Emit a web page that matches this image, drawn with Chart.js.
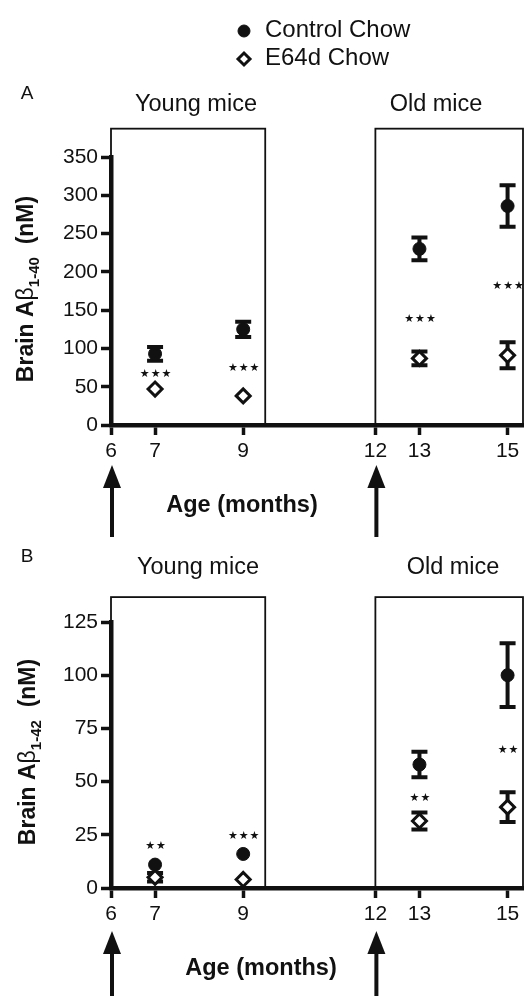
<!DOCTYPE html>
<html>
<head>
<meta charset="utf-8">
<script src="https://cdn.jsdelivr.net/npm/chart.js@4.4.1/dist/chart.umd.min.js"></script>
<style>
  html, body { margin: 0; padding: 0; background: #fff; }
  canvas { display: block; }
</style>
</head>
<body>
<canvas id="chartA" width="526" height="540"></canvas>
<canvas id="chartB" width="526" height="456"></canvas>
<script>
// ages (months) where mice were measured, and the labelled ticks
const months = [7, 9, 13, 15];
const xTicks = [6, 7, 9, 12, 13, 15];
const treatmentStarts = [6, 12];
const legendLabels = ['Control Chow', 'E64d Chow'];
const groupLabels = ['Young mice', 'Old mice'];

// panel A: Abeta 1-40
const controlA = [93, 125, 230, 286];
const controlErrA = [9, 10, 15, 27];
const e64dA = [47, 38, 87, 91];
const e64dErrA = [3, 2, 9, 17];
const starsA = ['***', '***', '***', '***'];
const starLevelA = [67, 74, 138, 181];
const yTicksA = [0, 50, 100, 150, 200, 250, 300, 350];

// panel B: Abeta 1-42
const controlB = [11, 16, 58, 100];
const controlErrB = [1, 1, 6, 15];
const e64dB = [5, 4, 31.5, 38];
const e64dErrB = [2, 1, 4, 7];
const starsB = ['**', '***', '**', '**'];
const starLevelB = [19.5, 24.5, 42, 65];
const yTicksB = [0, 25, 50, 75, 100, 125];

const FONT = '"Liberation Sans", Arial, Helvetica, sans-serif';
const INK = '#111';

function toPoints(values) {
  return months.map((m, i) => ({x: m, y: values[i]}));
}

function drawArrow(ctx, x, tip, end) {
  ctx.beginPath();
  ctx.moveTo(x, tip);
  ctx.lineTo(x - 9, tip + 23);
  ctx.lineTo(x + 9, tip + 23);
  ctx.closePath();
  ctx.fill();
  ctx.fillRect(x - 2, tip + 20, 4, end - tip - 20);
}

function drawYTitle(ctx, cx, cy, sub) {
  const parts = [
    {text: 'Brain A', font: `bold 23px ${FONT}`, dy: 0},
    {text: 'β', font: `23px ${FONT}`, dy: 0},
    {text: sub, font: `bold 15px ${FONT}`, dy: 6},
    {text: '  (nM)', font: `bold 23px ${FONT}`, dy: 0},
  ];
  ctx.save();
  ctx.translate(cx, cy);
  ctx.rotate(-Math.PI / 2);
  ctx.textBaseline = 'alphabetic';
  ctx.textAlign = 'left';
  let total = 0;
  parts.forEach(p => { ctx.font = p.font; p.w = ctx.measureText(p.text).width; total += p.w; });
  let px = -total / 2;
  parts.forEach(p => {
    ctx.font = p.font;
    ctx.fillText(p.text, px, 8 + p.dy);
    px += p.w;
  });
  ctx.restore();
}

const decorPlugin = {
  id: 'decor',
  beforeDatasetsDraw(chart, args, opts) {
    const {ctx, scales: {x, y}} = chart;
    ctx.save();
    ctx.strokeStyle = INK;
    // young / old boxes
    ctx.lineWidth = 1.8;
    opts.boxes.forEach(([a, b]) => {
      const left = x.getPixelForValue(a);
      const right = x.getPixelForValue(b);
      const top = y.getPixelForValue(opts.boxTop);
      const bottom = y.getPixelForValue(0);
      ctx.strokeRect(left, top, right - left, bottom - top);
    });
    // error bars (left out when much shorter than the symbol)
    ctx.lineWidth = 4;
    chart.data.datasets.forEach(ds => {
      ds.data.forEach((pt, i) => {
        const px = x.getPixelForValue(pt.x);
        const hi = y.getPixelForValue(pt.y + ds.errors[i]);
        const lo = y.getPixelForValue(pt.y - ds.errors[i]);
        if ((lo - hi) / 2 < ds.pointRadius * 0.6) return;
        ctx.beginPath();
        ctx.moveTo(px, hi); ctx.lineTo(px, lo);
        ctx.moveTo(px - 8, hi); ctx.lineTo(px + 8, hi);
        ctx.moveTo(px - 8, lo); ctx.lineTo(px + 8, lo);
        ctx.stroke();
      });
    });
    ctx.restore();
  },
  afterDraw(chart, args, opts) {
    const {ctx, scales: {x, y}} = chart;
    ctx.save();
    ctx.fillStyle = INK;
    ctx.strokeStyle = INK;

    // significance stars
    ctx.font = `11px "DejaVu Sans"`;
    ctx.letterSpacing = '1px';
    ctx.textAlign = 'center';
    ctx.textBaseline = 'middle';
    opts.stars.forEach((s, i) => {
      ctx.fillText(s.replace(/\*/g, '★'), x.getPixelForValue(months[i]) + 1, y.getPixelForValue(opts.starLevels[i]));
    });
    ctx.letterSpacing = '0px';

    // panel letter and group titles
    ctx.textBaseline = 'alphabetic';
    ctx.textAlign = 'center';
    ctx.font = `19px ${FONT}`;
    ctx.fillText(opts.letter, 27, opts.titleBase - 12);
    ctx.font = `23.5px ${FONT}`;
    groupLabels.forEach((g, i) => ctx.fillText(g, opts.groupX[i], opts.titleBase));

    // axis titles
    drawYTitle(ctx, opts.yTitleX, opts.yTitleY, opts.sub);
    ctx.font = `bold 23.5px ${FONT}`;
    ctx.textAlign = 'center';
    ctx.fillText('Age (months)', opts.ageX, opts.ageBase);

    // arrows at start of treatment
    treatmentStarts.forEach(m => drawArrow(ctx, x.getPixelForValue(m) + 1, opts.arrowTip, opts.arrowEnd));

    // legend
    if (opts.legend) {
      chart.data.datasets.forEach((ds, i) => {
        const ly = 31 + i * 28;
        ctx.fillStyle = ds.backgroundColor;
        ctx.lineWidth = ds.borderWidth;
        Chart.helpers.drawPoint(ctx, {pointStyle: ds.pointStyle, radius: 6, borderWidth: ds.borderWidth, rotation: 0}, 244, ly);
        ctx.fillStyle = INK;
        ctx.textAlign = 'left';
        ctx.font = `24px ${FONT}`;
        ctx.fillText(legendLabels[i], 265, ly + 6);
      });
    }
    ctx.restore();
  },
};

function makePanel(id, p) {
  const tickFont = {family: FONT, size: 21};
  return new Chart(document.getElementById(id), {
    type: 'scatter',
    data: {
      datasets: [
        {
          label: legendLabels[0],
          data: toPoints(p.control),
          errors: p.controlErr,
          pointStyle: 'circle',
          pointRadius: 6.5,
          backgroundColor: INK,
          borderColor: INK,
          borderWidth: 1,
          clip: false,
        },
        {
          label: legendLabels[1],
          data: toPoints(p.e64d),
          errors: p.e64dErr,
          pointStyle: 'rectRot',
          pointRadius: 7,
          backgroundColor: '#fff',
          borderColor: INK,
          borderWidth: 3,
          clip: false,
        },
      ],
    },
    options: {
      responsive: false,
      animation: false,
      events: [],
      layout: {autoPadding: false, padding: {top: p.padTop, right: 3, left: 0, bottom: 0}},
      plugins: {
        legend: {display: false},
        tooltip: {enabled: false},
        decor: p.decor,
      },
      scales: {
        x: {
          type: 'linear',
          min: 6,
          max: 15.35,
          afterBuildTicks: scale => { scale.ticks = xTicks.map(v => ({value: v})); },
          afterFit: scale => {
            scale.height = p.xHeight;
            scale.paddingLeft = 0;
            scale.paddingRight = 0;
          },
          ticks: {font: tickFont, color: INK, padding: 4, maxRotation: 0, autoSkip: false},
          grid: {drawOnChartArea: false, tickLength: 10, tickWidth: 3.5, tickColor: INK},
          border: {display: true, color: INK, width: 4.5},
        },
        y: {
          type: 'linear',
          min: 0,
          max: p.yTicks[p.yTicks.length - 1],
          afterBuildTicks: scale => { scale.ticks = p.yTicks.map(v => ({value: v})); },
          afterFit: scale => {
            scale.width = 111;
            scale.paddingTop = 0;
            scale.paddingBottom = 0;
          },
          ticks: {font: tickFont, color: INK, padding: 3, autoSkip: false},
          grid: {drawOnChartArea: false, tickLength: 10, tickWidth: 3.5, tickColor: INK},
          border: {display: true, color: INK, width: 4.5},
        },
      },
    },
    plugins: [decorPlugin],
  });
}

makePanel('chartA', {
  control: controlA, controlErr: controlErrA,
  e64d: e64dA, e64dErr: e64dErrA,
  yTicks: yTicksA,
  padTop: 157,
  xHeight: 115,
  decor: {
    boxes: [[6, 9.5], [12, 15.35]],
    boxTop: 387,
    stars: starsA, starLevels: starLevelA,
    letter: 'A', sub: '1-40',
    titleBase: 110.5, groupX: [196, 436],
    yTitleX: 25, yTitleY: 289,
    ageX: 242, ageBase: 511.5,
    arrowTip: 465, arrowEnd: 537,
    legend: true,
  },
});

makePanel('chartB', {
  control: controlB, controlErr: controlErrB,
  e64d: e64dB, e64dErr: e64dErrB,
  yTicks: yTicksB,
  padTop: 82,
  xHeight: 108,
  decor: {
    boxes: [[6, 9.5], [12, 15.35]],
    boxTop: 136.7,
    stars: starsB, starLevels: starLevelB,
    letter: 'B', sub: '1-42',
    titleBase: 33.5, groupX: [198, 453],
    yTitleX: 27, yTitleY: 212,
    ageX: 261, ageBase: 434.5,
    arrowTip: 391, arrowEnd: 456,
    legend: false,
  },
});
</script>
</body>
</html>
